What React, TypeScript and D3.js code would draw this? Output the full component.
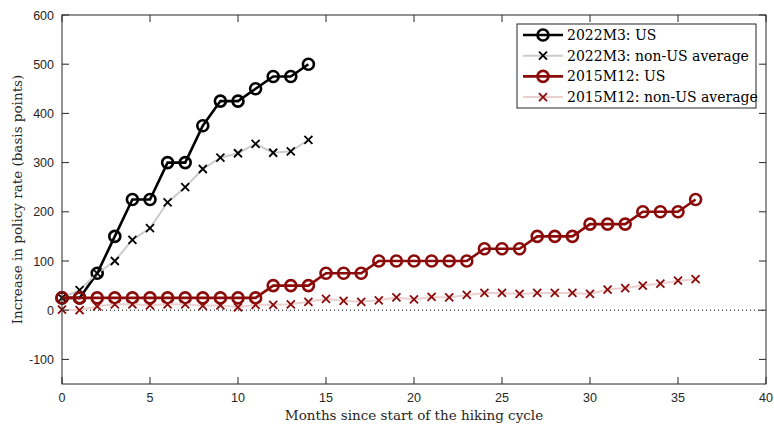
import React from "react";
import * as d3 from "d3";

const months2022 = d3.range(0, 15);
const us2022 = [25, 25, 75, 150, 225, 225, 300, 300, 375, 425, 425, 450, 475, 475, 500];
const nonUs2022 = [25, 41, 75, 100, 143, 167, 219, 250, 287, 310, 319, 338, 320, 323, 346];

const months2015 = d3.range(0, 37);
const us2015 = [25, 25, 25, 25, 25, 25, 25, 25, 25, 25, 25, 25, 50, 50, 50, 75, 75, 75, 100, 100, 100, 100, 100, 100, 125, 125, 125, 150, 150, 150, 175, 175, 175, 200, 200, 200, 225];
const nonUs2015 = [1, 0, 8, 12, 12, 10, 12, 12, 9, 10, 6, 11, 11, 12, 17, 23, 19, 17, 20, 26, 22, 27, 26, 31, 35, 35, 33, 35, 35, 35, 33, 42, 45, 50, 54, 60, 63];

const xTicks = [0, 5, 10, 15, 20, 25, 30, 35, 40];
const yTicks = [-100, 0, 100, 200, 300, 400, 500, 600];

const legendLabels = ["2022M3: US", "2022M3: non-US average", "2015M12: US", "2015M12: non-US average"];

const W = 774, H = 424;
const L = 62, R = 766, T = 15, B = 384;
const axisColor = "#262626";
const darkRed = "#8b0a0a";
const serif = "DejaVu Serif, serif";
const sans = "Liberation Sans, Arial, sans-serif";

export default function App() {
  const x = d3.scaleLinear().domain([0, 40]).range([L, R]);
  const y = d3.scaleLinear().domain([-150, 600]).range([B, T]);
  const line = (xs: number[], ys: number[]) =>
    d3.line<number>().x((_, i) => x(xs[i])).y((d) => y(d))(ys) || "";

  const circles = (xs: number[], ys: number[], color: string) =>
    ys.map((v, i) => (
      <circle key={i} cx={x(xs[i])} cy={y(v)} r={5.5} fill="none" stroke={color} strokeWidth={2.6} />
    ));
  const crosses = (xs: number[], ys: number[], color: string) =>
    ys.map((v, i) => {
      const cx = x(xs[i]), cy = y(v), s = 4;
      return (
        <path key={i} d={`M${cx - s},${cy - s}L${cx + s},${cy + s}M${cx - s},${cy + s}L${cx + s},${cy - s}`} stroke={color} strokeWidth={1.8} />
      );
    });

  const series = [
    { kind: "circle", line: "#000000", lw: 2.6, mark: "#000000" },
    { kind: "cross", line: "#cccccc", lw: 2, mark: "#000000" },
    { kind: "circle", line: darkRed, lw: 2.6, mark: darkRed },
    { kind: "cross", line: "#ecd0d0", lw: 2, mark: darkRed },
  ];

  const legX = 517, legY = 24, legW = 239, legH = 84;
  const rowY = (i: number) => 35 + i * 20.7;

  return (
    <svg width={W} height={H} style={{ position: "absolute", left: 0, top: 0, background: "#fff" }}>
      <rect x={0} y={0} width={W} height={H} fill="#fff" />
      <line x1={L} x2={R} y1={y(0)} y2={y(0)} stroke="#000" strokeWidth={1} strokeDasharray="1,3" />

      <path d={line(months2022, us2022)} fill="none" stroke="#000" strokeWidth={2.6} />
      {circles(months2022, us2022, "#000")}
      <path d={line(months2022, nonUs2022)} fill="none" stroke="#cccccc" strokeWidth={2} />
      {crosses(months2022, nonUs2022, "#000")}
      <path d={line(months2015, us2015)} fill="none" stroke={darkRed} strokeWidth={2.6} />
      {circles(months2015, us2015, darkRed)}
      <path d={line(months2015, nonUs2015)} fill="none" stroke="#ecd0d0" strokeWidth={2} />
      {crosses(months2015, nonUs2015, darkRed)}

      <rect x={L} y={T} width={R - L} height={B - T} fill="none" stroke={axisColor} strokeWidth={1} />
      {xTicks.map((t) => (
        <g key={"x" + t}>
          <line x1={x(t)} x2={x(t)} y1={B} y2={B - 7} stroke={axisColor} />
          <line x1={x(t)} x2={x(t)} y1={T} y2={T + 7} stroke={axisColor} />
          <text x={x(t)} y={402} textAnchor="middle" fontFamily={sans} fontSize={12.5} fill={axisColor}>{t}</text>
        </g>
      ))}
      {yTicks.map((t) => (
        <g key={"y" + t}>
          <line x1={L} x2={L + 7} y1={y(t)} y2={y(t)} stroke={axisColor} />
          <line x1={R} x2={R - 7} y1={y(t)} y2={y(t)} stroke={axisColor} />
          <text x={54} y={y(t) + 4.5} textAnchor="end" fontFamily={sans} fontSize={12.5} fill={axisColor}>{t}</text>
        </g>
      ))}

      <text x={(L + R) / 2 + 0} y={420} textAnchor="middle" fontFamily={serif} fontSize={13.5} fill={axisColor}>
        Months since start of the hiking cycle
      </text>
      <text transform={`translate(22,${(T + B) / 2}) rotate(-90)`} textAnchor="middle" fontFamily={serif} fontSize={13.5} fill={axisColor}>
        Increase in policy rate (basis points)
      </text>

      <rect x={legX} y={legY} width={legW} height={legH} fill="#fff" stroke={axisColor} strokeWidth={1} />
      {series.map((s, i) => {
        const cy = rowY(i);
        const cx = 543;
        return (
          <g key={"leg" + i}>
            <line x1={523} x2={563} y1={cy} y2={cy} stroke={s.line} strokeWidth={s.lw} />
            {s.kind === "circle" ? (
              <circle cx={cx} cy={cy} r={5.5} fill="none" stroke={s.mark} strokeWidth={2.6} />
            ) : (
              <path d={`M${cx - 4},${cy - 4}L${cx + 4},${cy + 4}M${cx - 4},${cy + 4}L${cx + 4},${cy - 4}`} stroke={s.mark} strokeWidth={1.8} />
            )}
            <text x={567} y={cy + 5} fontFamily={serif} fontSize={14} fill="#000">{legendLabels[i]}</text>
          </g>
        );
      })}
    </svg>
  );
}
